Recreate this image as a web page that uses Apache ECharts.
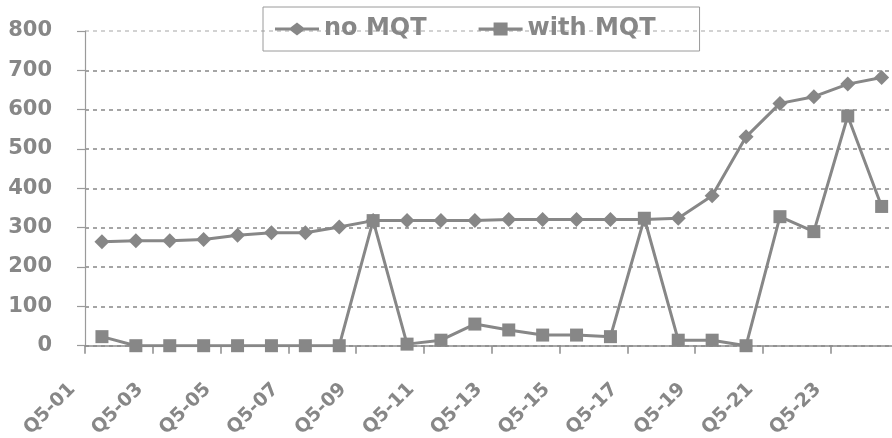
<!DOCTYPE html>
<html>
<head>
<meta charset="utf-8">
<script src="https://cdn.jsdelivr.net/npm/echarts@6/dist/echarts.min.js"></script>
<style>
html,body{margin:0;padding:0;background:#fff;}
#c{width:892px;height:438px;}
</style>
</head>
<body>
<div id="c"></div>
<script>
const categories = ['Q5-01','Q5-02','Q5-03','Q5-04','Q5-05','Q5-06','Q5-07','Q5-08','Q5-09','Q5-10','Q5-11','Q5-12','Q5-13','Q5-14','Q5-15','Q5-16','Q5-17','Q5-18','Q5-19','Q5-20','Q5-21','Q5-22','Q5-23','Q5-24'];
const noMQT = [264,267,267,270,281,287,287,302,318,318,318,318,321,321,321,321,321,324,381,531,616,633,665,682];
const withMQT = [23,0,0,0,0,0,0,0,318,4,14,55,40,27,27,23,324,14,14,0,328,290,584,354];
const yTicks = [0,100,200,300,400,500,600,700,800];

const gray = '#878787';
const font = 'DejaVu Sans';
const iconDiamond = 'path://M0,5 L15.5,5 L22,0 L28.5,5 L44,5 L44,8 L28.5,8 L22,13 L15.5,8 L0,8 Z';
const iconSquare = 'path://M0,5 L15,5 L15,0.5 L29,0.5 L29,5 L44,5 L44,8 L29,8 L29,12.5 L15,12.5 L15,8 L0,8 Z';
const chart = echarts.init(document.getElementById('c'), null, {renderer:'canvas'});
chart.setOption({
  animation:false,
  backgroundColor:'#fff',
  grid:{left:85, right:-6.6, top:31, bottom:92.3, containLabel:false, outerBoundsMode:'none'},
  legend:{
    left:263, top:7,
    padding:[10,44,10,12],
    borderColor:'#9a9a9a', borderWidth:1,
    itemWidth:44, itemHeight:13, itemGap:52,
    symbolKeepAspect:false,
    itemStyle:{color:gray, borderWidth:0},
    lineStyle:{width:0},
    textStyle:{fontFamily:font, fontWeight:'bold', fontSize:24, color:gray},
    data:[{name:'no MQT', icon:iconDiamond},{name:'with MQT', icon:iconSquare}]
  },
  xAxis:{
    type:'category', data:categories, boundaryGap:true,
    axisLine:{lineStyle:{color:'#8c8c8c', width:1.5}},
    axisTick:{show:true, length:8, lineStyle:{color:'#8c8c8c', width:1.5}},
    axisLabel:{interval:1, rotate:45, margin:11, padding:[0,42,0,0],
      fontFamily:font, fontWeight:'bold', fontSize:19, color:gray},
    splitLine:{show:false}
  },
  yAxis:{
    type:'value', min:yTicks[0], max:yTicks[yTicks.length-1], interval:100,
    axisLine:{show:true, lineStyle:{color:'#9a9a9a', width:1.2}},
    axisTick:{show:true, length:8, lineStyle:{color:'#9a9a9a', width:1.2}},
    axisLabel:{margin:33, fontFamily:font, fontWeight:'bold', fontSize:21, color:gray},
    splitLine:{show:true, lineStyle:{color:['#888','#888','#888','#888','#888','#888','#888','#888','#c4c4c4'], type:[4,4], width:1.5}}
  },
  series:[
    {name:'no MQT', type:'line', data:noMQT, symbol:'diamond', symbolSize:15, legendIcon:iconDiamond,
     lineStyle:{color:gray, width:3}, itemStyle:{color:gray}, z:2},
    {name:'with MQT', type:'line', data:withMQT, symbol:'rect', symbolSize:13, legendIcon:iconSquare,
     lineStyle:{color:gray, width:3}, itemStyle:{color:gray}, z:3}
  ]
});
</script>
</body>
</html>
